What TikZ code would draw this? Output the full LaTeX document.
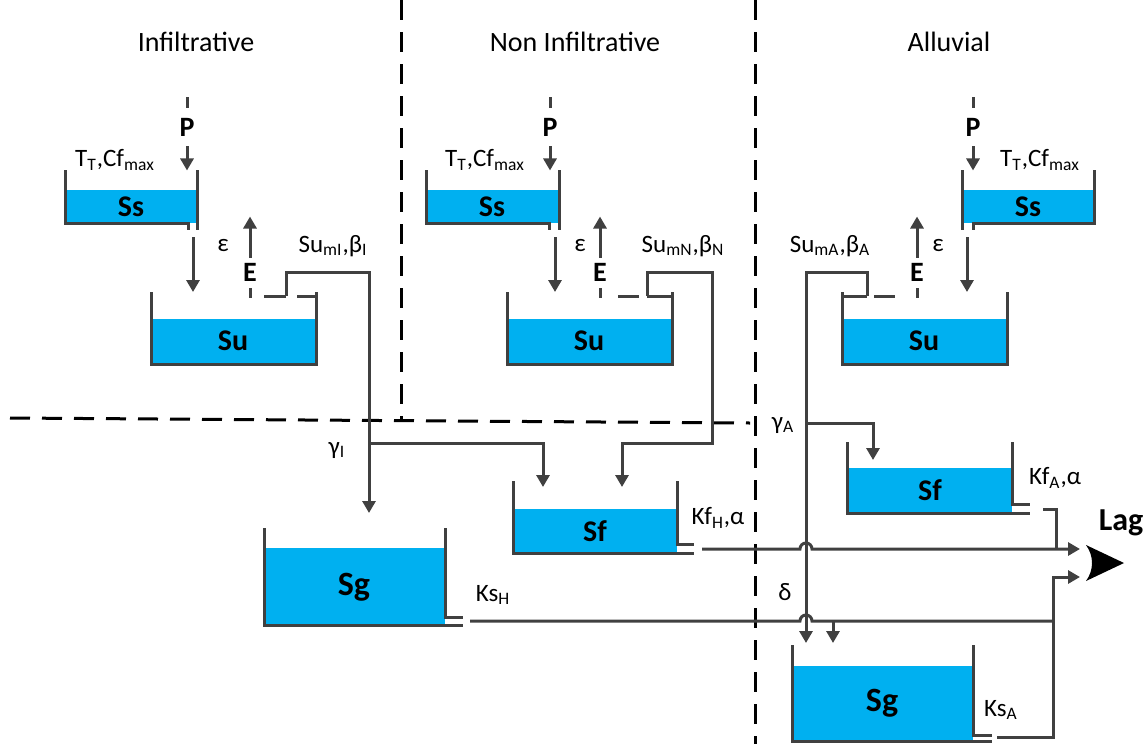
\documentclass[tikz,border=0pt]{standalone}
\usepackage{fontspec}
\setmainfont{Carlito}
\usetikzlibrary{arrows.meta}
\definecolor{pipegray}{HTML}{404040}
\definecolor{water}{HTML}{00B0F0}

\begin{document}
\begin{tikzpicture}[
  x=0.5pt, y=-0.5pt,
  wall/.style={draw=pipegray, line width=1.5pt},
  pipe/.style={draw=pipegray, line width=1.5pt},
  flow/.style={draw=pipegray, line width=1.5pt, -{Triangle[width=6.5pt,length=6pt]}},
  sep/.style={draw=black, line width=1.5pt, dash pattern=on 10pt off 6pt},
  title/.style={font=\fontsize{14}{16}\selectfont},
  lbl/.style={font=\fontsize{12.5}{14}\selectfont, inner sep=0pt},
  flux/.style={font=\bfseries\fontsize{14}{16}\selectfont, inner sep=0pt},
  store/.style={font=\bfseries\fontsize{15}{17}\selectfont, inner sep=0pt},
  bigstore/.style={font=\bfseries\fontsize{17}{19}\selectfont, inner sep=0pt},
]
  \useasboundingbox (0,0) rectangle (1144,744);

  % zones
  \node[title] (tInf) at (196,42) {Infiltrative};
  \node[title] (tNon) at (575,42) {Non Infiltrative};
  \node[title] (tAll) at (949,42) {Alluvial};
  \draw[sep] (401,0) -- (401,420);
  \draw[sep] (755,0) -- (755,744);
  \draw[sep] (10,418) -- (750,423);

  % ---- Infiltrative ----
  \fill[water] (65,190) rectangle (197,223);
  \draw[wall] (65,170) -- (65,223) -- (188,223) -- (188,230);
  \draw[wall] (197,170) -- (197,230);
  \node[store] (ssI) at (131,207) {Ss};
  \node[lbl] (ttI) at (115,160) {T\textsubscript{T},Cf\textsubscript{max}};
  \node[flux] (pI) at (187,127) {P};
  \draw[pipe] (pI.north) ++(0,-10) -- ++(0,-11);
  \draw[flow] (pI.south) ++(0,10) -- ++(0,24);
  \draw[flow] (193,237) -- (193,292);

  \fill[water] (151,319) rectangle (316,364);
  \draw[wall] (151,292) -- (151,364) -- (316,364) -- (316,292);
  \node[store] (suI) at (233,341) {Su};
  \node[flux] (eI) at (250,272) {E};
  \draw[flow] (eI.north) ++(0,-5) -- ++(0,-41);
  \draw[pipe] (eI.south) ++(0,7) -- ++(0,10);
  \node[lbl] (epsI) at (223,246) {ε};
  \draw[pipe] (264,296) -- (286,296);
  \draw[pipe] (297,296) -- (316,296);
  \node[lbl] (smI) at (333,246) {Su\textsubscript{mI},β\textsubscript{I}};
  \draw[flow] (286,296) -- (286,272) -- (369,272) -- (369,513);
  \draw[flow] (369,443) -- (543,443) -- (543,487);
  \node[lbl] (gI) at (337,450) {γ\textsubscript{I}};

  \fill[water] (264,548) rectangle (445,625);
  \draw[wall] (264,528) -- (264,625) -- (463,625);
  \draw[wall] (445,528) -- (445,617) -- (463,617);
  \node[bigstore] (sgI) at (354,587) {Sg};
  \node[lbl] (ksH) at (493,595) {Ks\textsubscript{H}};

  % ---- Non Infiltrative ----
  \fill[water] (426,190) rectangle (559,223);
  \draw[wall] (426,170) -- (426,223) -- (549,223) -- (549,230);
  \draw[wall] (559,170) -- (559,230);
  \node[store] (ssN) at (492,207) {Ss};
  \node[lbl] (ttN) at (485,160) {T\textsubscript{T},Cf\textsubscript{max}};
  \node[flux] (pN) at (550,127) {P};
  \draw[pipe] (pN.north) ++(0,-10) -- ++(0,-11);
  \draw[flow] (pN.south) ++(0,10) -- ++(0,24);
  \draw[flow] (555,237) -- (555,292);

  \fill[water] (507,319) rectangle (672,364);
  \draw[wall] (507,292) -- (507,364) -- (672,364) -- (672,292);
  \node[store] (suN) at (589,341) {Su};
  \node[flux] (eN) at (600,272) {E};
  \draw[flow] (eN.north) ++(0,-5) -- ++(0,-41);
  \draw[pipe] (eN.south) ++(0,7) -- ++(0,10);
  \node[lbl] (epsN) at (580,246) {ε};
  \draw[pipe] (618,296) -- (639,296);
  \draw[pipe] (647,296) -- (672,296);
  \node[lbl] (smN) at (683,246) {Su\textsubscript{mN},β\textsubscript{N}};
  \draw[flow] (647,296) -- (647,272) -- (712,272) -- (712,443) -- (622,443) -- (622,487);

  \fill[water] (513,509) rectangle (677,553);
  \draw[wall] (513,481) -- (513,553) -- (694,553);
  \draw[wall] (677,481) -- (677,544) -- (694,544);
  \node[store] (sfH) at (595,531) {Sf};
  \node[lbl] (kfH) at (718,518) {Kf\textsubscript{H},α};

  % ---- Alluvial ----
  \fill[water] (962,190) rectangle (1094,223);
  \draw[wall] (1094,170) -- (1094,223) -- (973,223) -- (973,230);
  \draw[wall] (962,170) -- (962,230);
  \node[store] (ssA) at (1028,207) {Ss};
  \node[lbl] (ttA) at (1040,160) {T\textsubscript{T},Cf\textsubscript{max}};
  \node[flux] (pA) at (973,127) {P};
  \draw[pipe] (pA.north) ++(0,-10) -- ++(0,-11);
  \draw[flow] (pA.south) ++(0,10) -- ++(0,24);
  \draw[flow] (967,237) -- (967,292);

  \fill[water] (842,319) rectangle (1007,364);
  \draw[wall] (842,292) -- (842,364) -- (1007,364) -- (1007,292);
  \node[store] (suA) at (924,341) {Su};
  \node[flux] (eA) at (917,272) {E};
  \draw[flow] (eA.north) ++(0,-5) -- ++(0,-41);
  \draw[pipe] (eA.south) ++(0,7) -- ++(0,10);
  \node[lbl] (epsA) at (938,246) {ε};
  \draw[pipe] (842,296) -- (867,296);
  \draw[pipe] (874,296) -- (895,296);
  \node[lbl] (smA) at (830,246) {Su\textsubscript{mA},β\textsubscript{A}};
  \draw[flow] (867,296) -- (867,272) -- (806,272) -- (806,643);
  \draw[flow] (806,423) -- (873,423) -- (873,460);
  \node[lbl] (gA) at (783,425) {γ\textsubscript{A}};

  \fill[water] (847,468) rectangle (1012,513);
  \draw[wall] (847,442) -- (847,513) -- (1030,513);
  \draw[wall] (1012,442) -- (1012,504) -- (1030,504);
  \node[store] (sfA) at (930,490) {Sf};
  \node[lbl] (kfA) at (1055,478) {Kf\textsubscript{A},α};
  \draw[pipe] (1043,509) -- (1056,509) -- (1056,549);

  \fill[water] (792,666) rectangle (973,741);
  \draw[wall] (792,645) -- (792,741) -- (992,741);
  \draw[wall] (973,645) -- (973,735) -- (992,735);
  \node[bigstore] (sgA) at (882,703) {Sg};
  \node[lbl] (ksA) at (1001,710) {Ks\textsubscript{A}};

  % routing
  \draw[flow] (702,549) -- (800,549) arc[start angle=180, end angle=0, radius=3pt] -- (1080,549);
  \draw[pipe] (470,621) -- (800,621) arc[start angle=180, end angle=0, radius=3pt] -- (1053,621);
  \draw[flow] (997,737) -- (1053,737) -- (1053,577) -- (1080,577);
  \draw[flow] (833,621) -- (833,643);
  \node[lbl] (dA) at (785,592) {δ};

  \fill[black] (1086,545) -- (1124,563) -- (1086,581) .. controls (1094,570) and (1094,556) .. cycle;
  \node[font=\bfseries\fontsize{16}{18}\selectfont] (lag) at (1121,523) {Lag};
\end{tikzpicture}
\end{document}
